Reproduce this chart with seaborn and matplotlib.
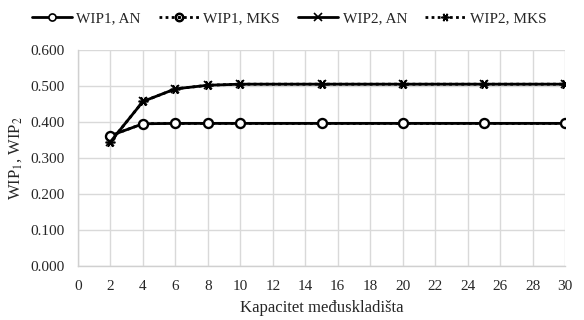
import matplotlib
matplotlib.use("Agg")
import matplotlib.pyplot as plt
import seaborn as sns
import pandas as pd

capacity = [2, 4, 6, 8, 10, 15, 20, 25, 30]
wip1_an = [0.362, 0.395, 0.396, 0.396, 0.396, 0.396, 0.396, 0.396, 0.396]
wip1_mks = [0.362, 0.395, 0.396, 0.396, 0.396, 0.396, 0.396, 0.396, 0.396]
wip2_an = [0.345, 0.457, 0.492, 0.502, 0.505, 0.505, 0.505, 0.505, 0.505]
wip2_mks = [0.345, 0.457, 0.492, 0.502, 0.505, 0.505, 0.505, 0.505, 0.505]
series_names = ["WIP1, AN", "WIP1, MKS", "WIP2, AN", "WIP2, MKS"]
x_ticks = list(range(0, 31, 2))
y_ticks = [0.0, 0.1, 0.2, 0.3, 0.4, 0.5, 0.6]

sns.set_theme(style="whitegrid")
plt.rcParams["font.family"] = ["Liberation Serif", "DejaVu Serif"]
plt.rcParams["mathtext.fontset"] = "stix"

fig = plt.figure(figsize=(5.84, 3.2), dpi=100)
ax = fig.add_axes([0.1336, 0.169, 0.8339, 0.6748])

dots = (0, (1, 1.2))
styles = [
    dict(marker="o", linestyle="-", mfc="white", ms=6, zorder=4),
    dict(marker=r"$\odot$", linestyle=dots, mfc="black", ms=7, zorder=3),
    dict(marker="x", linestyle="-", mfc="black", ms=6, zorder=4),
    dict(marker=(6, 2, 90), linestyle=dots, mfc="black", ms=7, zorder=3),
]
data = [wip1_an, wip1_mks, wip2_an, wip2_mks]
for name, vals, st in zip(series_names, data, styles):
    df = pd.DataFrame({"x": capacity, "y": vals})
    sns.lineplot(data=df, x="x", y="y", ax=ax, color="black", linewidth=2,
                 marker=st["marker"], linestyle=st["linestyle"],
                 markersize=st["ms"], markerfacecolor=st["mfc"],
                 markeredgecolor="black", markeredgewidth=1.2,
                 label=name, zorder=st["zorder"])

ax.set_xlim(0, 30)
ax.set_ylim(0, 0.6)
ax.set_xticks(x_ticks)
ax.set_yticks(y_ticks)
ax.set_yticklabels([f"{v:.3f}" for v in y_ticks])
ax.tick_params(labelsize=11, length=0)
ax.tick_params(axis="x", pad=10)
ax.tick_params(axis="y", pad=10)
ax.grid(True, color="#d9d9d9", linewidth=1)
for s in ["top", "right"]:
    ax.spines[s].set_visible(False)
for s in ["left", "bottom"]:
    ax.spines[s].set_color("#d0d0d0")
    ax.spines[s].set_linewidth(1)
ax.set_xlabel("Kapacitet međuskladišta", fontsize=12, labelpad=5)
ax.set_ylabel(r"WIP$_1$, WIP$_2$", fontsize=12, labelpad=4)

leg = ax.legend(loc="center", ncol=4, frameon=False, fontsize=11,
                handlelength=2.6, columnspacing=1.2, handletextpad=0.3,
                borderaxespad=0, borderpad=0, markerscale=0.85)
leg.set_bbox_to_anchor((0.495, 1 - 18 / 320), transform=fig.transFigure)

fig.savefig("out.png", dpi=100)
